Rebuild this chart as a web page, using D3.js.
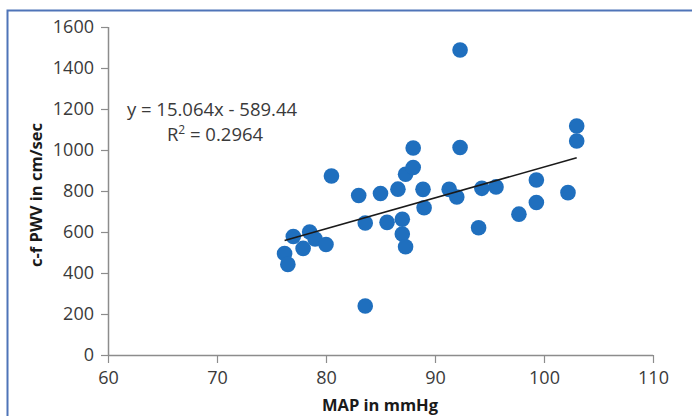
<!DOCTYPE html>
<html>
<head>
<meta charset="utf-8">
<script src="https://cdn.jsdelivr.net/npm/d3@7"></script>
<style>
  html, body { margin: 0; padding: 0; background: #fff; overflow: hidden; }
</style>
</head>
<body>
<script>
// values (MAP in mmHg vs c-f PWV in cm/sec)
var mapValues = [76.2, 76.5, 77.0, 77.9, 78.5, 79.0, 80.0, 80.5, 83.0, 83.6,
                 83.6, 85.0, 85.6, 86.6, 87.0, 87.0, 87.3, 87.3, 88.0, 88.0,
                 88.9, 89.0, 91.3, 92.0, 92.3, 92.3, 94.0, 94.3, 95.6, 97.7,
                 99.3, 99.3, 102.2, 103.0, 103.0]
var pwvValues = [495, 442, 578, 520, 600, 566, 539, 873, 778, 644,
                 239, 788, 647, 809, 662, 590, 528, 882, 915, 1010,
                 808, 718, 808, 771, 1012, 1488, 621, 813, 820, 687,
                 854, 744, 792, 1117, 1044]

var xTicks = [60, 70, 80, 90, 100, 110]
var yTicks = [0, 200, 400, 600, 800, 1000, 1200, 1400, 1600]

// trendline as printed on the chart
var slope = 15.064
var intercept = -589.44
var eqLabel = "y = 15.064x - 589.44"
var r2Label = "0.2964"

var xTitle = "MAP in mmHg"
var yTitle = "c-f PWV in cm/sec"

var W = 692, H = 416
var font = "'Open Sans', Lato, sans-serif"
var textCol = "#3a3a3a"
var axisCol = "#8c8c8c"

var svg = d3.select("body").append("svg")
    .attr("width", W)
    .attr("height", H)

// outer frame (blue border of the figure box)
svg.append("rect")
    .attr("x", 7.5)
    .attr("y", 10.5)
    .attr("width", W + 20)
    .attr("height", H + 20)
    .style("fill", "white")
    .style("stroke", "#4f74b8")
    .style("stroke-width", 2)

var x = d3.scaleLinear().domain([60, 110]).range([108, 653])
var y = d3.scaleLinear().domain([0, 1600]).range([355, 27])

// axes
var gx = svg.append("g").attr("transform", "translate(0," + y(0) + ")")
    .call(d3.axisBottom(x).tickValues(xTicks).tickSize(8).tickPadding(8))
var gy = svg.append("g").attr("transform", "translate(" + x(60) + ",0)")
    .call(d3.axisLeft(y).tickValues(yTicks).tickFormat(d3.format("d")).tickSize(7).tickPadding(7))

gx.select(".domain").remove()
gy.select(".domain").remove()
svg.append("line")
    .attr("x1", x(60)).attr("x2", x(110))
    .attr("y1", y(0) + 0.5).attr("y2", y(0) + 0.5)
    .style("stroke", axisCol).style("stroke-width", 1.5)
svg.append("line")
    .attr("x1", x(60) + 0.5).attr("x2", x(60) + 0.5)
    .attr("y1", y(1600)).attr("y2", y(0))
    .style("stroke", axisCol).style("stroke-width", 1.5)

svg.selectAll(".tick line")
    .style("stroke", axisCol)
    .style("stroke-width", 1.2)
svg.selectAll(".tick text")
    .attr("font-family", font)
    .attr("font-size", "18px")
    .attr("fill", textCol)

// points
svg.append("g").selectAll("circle")
    .data(mapValues)
    .enter()
    .append("circle")
    .attr("cx", (d) => x(d))
    .attr("cy", (d, i) => y(pwvValues[i]))
    .attr("r", 7.8)
    .style("fill", "#1f6fbe")

// linear trendline
var x0 = d3.min(mapValues), x1 = d3.max(mapValues)
svg.append("line")
    .attr("x1", x(x0)).attr("y1", y(slope * x0 + intercept))
    .attr("x2", x(x1)).attr("y2", y(slope * x1 + intercept))
    .style("stroke", "#1a1a1a")
    .style("stroke-width", 1.6)

// equation + R2
svg.append("text")
    .attr("x", 212).attr("y", 116)
    .attr("text-anchor", "middle")
    .attr("font-family", font)
    .attr("font-size", "18.5px")
    .attr("fill", textCol)
    .text(eqLabel)
var r2 = svg.append("text")
    .attr("x", 215).attr("y", 141)
    .attr("text-anchor", "middle")
    .attr("font-family", font)
    .attr("font-size", "18.5px")
    .attr("fill", textCol)
r2.append("tspan").text("R")
r2.append("tspan").attr("dy", -7).attr("font-size", "12px").text("2")
r2.append("tspan").attr("dy", 7).text(" = " + r2Label)

// axis titles
svg.append("text")
    .attr("x", 380).attr("y", 411)
    .attr("text-anchor", "middle")
    .attr("font-family", font)
    .attr("font-weight", "bold")
    .attr("font-size", "16.5px")
    .attr("fill", "#1a1a1a")
    .text(xTitle)
svg.append("text")
    .attr("transform", "translate(42,195) rotate(-90)")
    .attr("text-anchor", "middle")
    .attr("font-family", font)
    .attr("font-weight", "bold")
    .attr("font-size", "16.5px")
    .attr("fill", "#1a1a1a")
    .text(yTitle)
</script>
</body>
</html>
